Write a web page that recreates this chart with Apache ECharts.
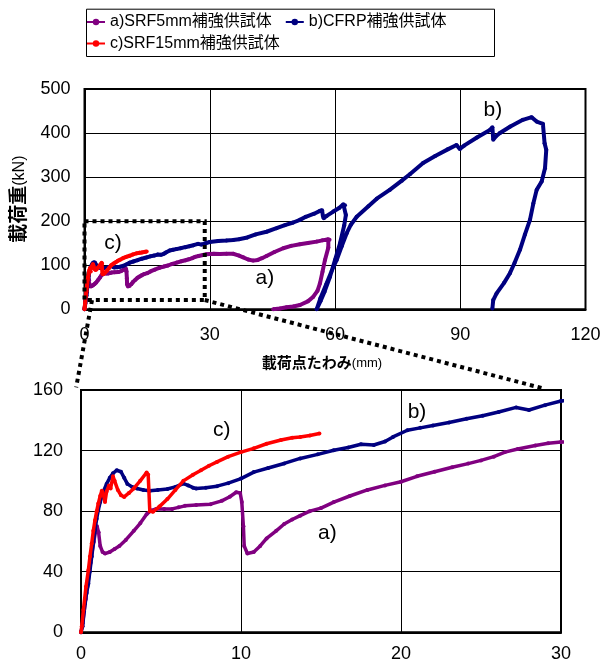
<!DOCTYPE html>
<html><head><meta charset="utf-8">
<script src="https://cdn.jsdelivr.net/npm/echarts@6/dist/echarts.min.js"></script>
<style>html,body{margin:0;padding:0;background:#fff}#c{width:611px;height:671px}</style>
</head><body><div id="c"></div>
<script>
// ---- data ----
const seriesNames = ['a)SRF5mm補強供試体', 'b)CFRP補強供試体', 'c)SRF15mm補強供試体'];
const seriesColors = ['#800080', '#000080', '#ff0000'];

// a) SRF5mm : [deflection mm, load kN]
const dataA = [[0,0],[0.1,6],[0.2,14],[0.3,22],[0.4,30],[0.5,38],[0.6,46],[0.7,53],[0.8,60],[0.9,66],[1.0,70],[1.1,66],[1.2,57],[1.35,53],[1.5,52],[1.8,53],[2.1,55],[2.4,57],[2.8,61],[3.3,67],[3.7,72],[4.1,78],[4.4,80.5],[4.7,81.5],[5.2,81.5],[5.7,81.5],[6.1,82.5],[6.5,83.5],[7.2,84],[8.1,84.6],[8.8,86.8],[9.3,89.5],[9.7,92.5],[9.95,92],[10.05,86],[10.15,70],[10.2,57],[10.4,52],[10.8,53],[11.2,57],[11.6,62],[12.2,67],[12.7,71.5],[13.2,74.5],[13.7,77],[14.3,80],[15,82],[15.8,86],[16.8,90],[17.9,94],[19,97],[20,99.4],[21,103],[22.1,106],[23.2,109],[24.2,111.4],[25,113.5],[25.8,116],[26.5,119],[27.3,121],[28.4,123.4],[29.2,124.8],[30,125.6],[31,125.8],[32.4,125.7],[34,126],[35.6,126],[37,122],[38,118],[39.2,113],[40.4,110.5],[41.5,112],[42.5,116],[43.6,121],[45.5,130],[47.6,138.6],[49.5,144],[51.6,147.7],[53.5,150.5],[55.6,153.6],[57,156.5],[58.4,159],[58.7,158],[58.4,140],[57.6,112],[57,85],[56.4,59],[55.8,42],[54.8,28.6],[53.5,18],[51.6,9.8],[50,6.5],[48.4,4.5],[46.8,2],[45.2,0]];

// b) CFRP
const dataB = [[0,0],[0.1,4],[0.25,19],[0.35,26],[0.46,32],[0.55,40],[0.67,50],[0.77,59],[0.875,67.5],[0.98,75],[1.08,80.7],[1.2,86],[1.4,93],[1.6,98],[1.8,102],[2.0,105],[2.23,107],[2.5,106],[2.7,102],[2.9,98],[3.2,96],[3.5,95],[3.9,94],[4.3,93.5],[4.8,94],[5.4,94.6],[5.9,96],[6.4,98.2],[6.7,97],[7.0,95.5],[7.2,95],[7.8,95.5],[8.5,96.5],[9.2,98.5],[10,101.5],[10.8,105.8],[11.7,108.5],[12.7,111.5],[13.7,114.8],[14.8,117.5],[15.8,120.2],[16.7,122],[17.5,124.2],[18.3,123.7],[19,126],[19.5,129],[20.4,133.4],[21.2,135],[22,136.6],[23,138.5],[24.1,141],[25.1,143],[26.1,145.5],[27.2,148.5],[28,146.8],[29,150],[30,152.7],[32,155],[34,156],[35.6,157.5],[37,159],[39,163],[41,170],[43.6,176],[46,184],[48,191],[50,197],[51.6,203],[53,210],[55,217],[56.4,223.4],[56.9,225],[57.1,212],[57.3,206.8],[58,212],[59.6,221.8],[61,230],[62,238.6],[62.4,236],[62.6,214],[62.2,190],[61.2,150],[60,112],[58.8,74],[57.5,40],[56.5,18],[55.6,0],[56.5,25],[58,59],[59.2,87],[60.4,112],[61.6,143],[62.8,172.7],[63.8,192],[65.2,210],[68,234],[70,251],[73.1,271],[76,292],[78,307],[81.1,332],[84,348],[87,363],[89.1,373],[89.9,364],[91,372],[94,390],[97.1,407],[97.7,413],[97.9,385],[98.5,392],[99.5,400],[102,415],[105,430],[107.1,436],[108.3,426],[109.8,421],[110.2,377],[110.6,362],[110.3,320],[109.5,290],[108.3,271],[107.5,240],[106.7,203],[105.5,170],[104.3,135],[103,105],[101.9,82],[100.5,60],[98.7,36],[97.9,21],[97.7,2]];

// c) SRF15mm
const dataC = [[0,0],[0.05,4],[0.15,14.7],[0.31,30],[0.46,41],[0.56,50],[0.67,58.7],[0.77,67],[0.875,74],[0.98,80],[1.08,85],[1.2,90],[1.3,93.5],[1.4,91],[1.5,86],[1.6,93],[1.75,97],[1.85,95],[2.0,103],[2.1,100],[2.3,94],[2.5,90.5],[2.7,89.4],[3.0,92],[3.3,95],[3.7,100],[4.1,105.5],[4.2,104],[4.3,80],[4.5,79.6],[4.9,83],[5.4,88],[5.9,94],[6.4,100],[7.0,104],[7.5,107],[8.0,110],[8.5,112.5],[9.2,116],[10,119],[10.8,121.5],[11.6,124.5],[12.5,127],[13.2,128.5],[13.7,129],[14.3,130],[14.9,131.3]];

// axes
const topX = {min: 0, max: 120, interval: 30};
const topY = {min: 0, max: 500, interval: 100};
const botX = {min: 0, max: 30, interval: 10};
const botY = {min: 0, max: 160, interval: 40};
const xTitle = '載荷点たわみ';
const xUnit = '(mm)';
const yTitle = '載荷重';
const yUnit = '(kN)';

// annotations: [gridIndex, x, y, text]
const notes = [[0, 6.8, 151, 'c)'], [0, 43.2, 71, 'a)'], [0, 97.8, 453, 'b)'],
               [1, 8.8, 133.4, 'c)'], [1, 15.4, 65.5, 'a)'], [1, 21, 145.3, 'b)']];
// zoom box in top panel (data units)
const zoomBox = {x0: 0, x1: 28.8, y0: 21, y1: 200};

// ---- chart ----
const FONT = "'Liberation Sans','Noto Sans CJK JP',sans-serif";
const chart = echarts.init(document.getElementById('c'), null, {renderer: 'canvas'});

function axisCommon(extra) {
  return Object.assign({
    type: 'value',
    axisLine: {show: true, lineStyle: {color: '#000', width: 2}},
    axisTick: {show: false},
    splitLine: {show: true, lineStyle: {color: '#000', width: 1}},
    axisLabel: {color: '#000', fontSize: 18, fontFamily: FONT}
  }, extra);
}

function mk(i, g) {
  return {
    name: seriesNames[i], type: 'line', xAxisIndex: g, yAxisIndex: g,
    data: [dataA, dataB, dataC][i],
    symbol: 'circle', symbolSize: 4, showSymbol: true, showAllSymbol: true,
    lineStyle: {width: g === 0 ? 4 : 3.5, color: seriesColors[i]},
    itemStyle: {color: seriesColors[i]},
    color: seriesColors[i], clip: true, animation: false, z: 2 + i
  };
}

const legendCommon = {
  padding: 0, itemGap: 13, itemWidth: 18, itemHeight: 8,
  textStyle: {fontSize: 16, color: '#000', fontFamily: FONT},
  selectedMode: false
};

chart.setOption({
  animation: false,
  backgroundColor: '#fff',
  legend: [
    Object.assign({data: [seriesNames[0], seriesNames[1]], left: 86, top: 14}, legendCommon),
    Object.assign({data: [seriesNames[2]], left: 86, top: 35.5}, legendCommon)
  ],
  grid: [
    {left: 84.5, top: 89, width: 501, height: 220.3, show: true, borderColor: '#000', borderWidth: 2},
    {left: 81, top: 390, width: 480, height: 242.3, show: true, borderColor: '#000', borderWidth: 2}
  ],
  xAxis: [
    axisCommon(Object.assign({gridIndex: 0,
      name: '{b|' + xTitle + '}{s|' + xUnit + '}', nameLocation: 'middle', nameGap: 47,
      nameTextStyle: {padding: [0, 26, 0, 0], rich: {
        b: {fontSize: 15, fontWeight: 'bold', fontFamily: FONT, color: '#000'},
        s: {fontSize: 13, fontFamily: FONT, color: '#000'}}},
      axisLabel: {color: '#000', fontSize: 18, fontFamily: FONT, margin: 17}}, topX)),
    axisCommon(Object.assign({gridIndex: 1,
      axisLabel: {color: '#000', fontSize: 18, fontFamily: FONT, margin: 13}}, botX))
  ],
  yAxis: [
    axisCommon(Object.assign({gridIndex: 0,
      name: '{b|' + yTitle + '}{s|' + yUnit + '}', nameLocation: 'middle', nameGap: 42, nameRotate: 90,
      nameTextStyle: {rich: {
        b: {fontSize: 19, fontWeight: 'bold', fontFamily: FONT, color: '#000'},
        s: {fontSize: 16, fontFamily: FONT, color: '#000'}}},
      axisLabel: {color: '#000', fontSize: 18, fontFamily: FONT, margin: 14}}, topY)),
    axisCommon(Object.assign({gridIndex: 1,
      axisLabel: {color: '#000', fontSize: 18, fontFamily: FONT, margin: 18}}, botY))
  ],
  series: [mk(0, 0), mk(1, 0), mk(2, 0), mk(0, 1), mk(1, 1), mk(2, 1)]
});

// decorations computed from data coordinates
const P = (g, pt) => chart.convertToPixel({gridIndex: g}, pt);
const tl = P(0, [zoomBox.x0, zoomBox.y1]);
const br = P(0, [zoomBox.x1, zoomBox.y0]);
const dash = {stroke: '#000', lineWidth: 4, lineDash: [4, 4], fill: null, lineCap: 'butt'};
const l1a = P(0, [1.8, zoomBox.y0]), l1b = P(1, [-0.3, 161.8]);
const l2a = P(0, [zoomBox.x1, zoomBox.y0]), l2b = P(1, [28.9, 161]);
const graphics = [
  {type: 'rect', left: 84, top: 6.7, shape: {x: 0, y: 0, width: 408, height: 47.3},
   style: {stroke: '#000', lineWidth: 1, fill: null}, z: 10},
  {type: 'rect', shape: {x: tl[0], y: tl[1], width: br[0] - tl[0], height: br[1] - tl[1]},
   style: dash, z: 20},
  {type: 'line', shape: {x1: l1a[0], y1: l1a[1], x2: l1b[0], y2: l1b[1]}, style: dash, z: 20},
  {type: 'line', shape: {x1: l2a[0], y1: l2a[1], x2: l2b[0], y2: l2b[1]}, style: dash, z: 20}
];
notes.forEach(n => {
  const p = P(n[0], [n[1], n[2]]);
  graphics.push({type: 'text', x: p[0], y: p[1], z: 15,
    style: {text: n[3], fontSize: 21, fontFamily: FONT, fill: '#000', align: 'center', verticalAlign: 'middle'}});
});
chart.setOption({graphic: graphics});
</script>
</body></html>
